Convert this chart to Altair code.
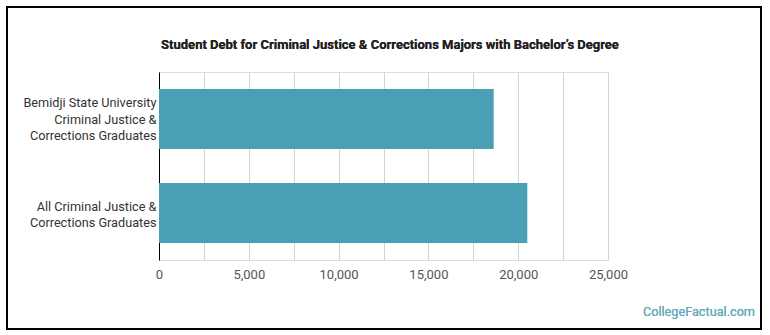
import altair as alt
import pandas as pd

categories = [
    "Bemidji State University\nCriminal Justice &\nCorrections Graduates",
    "All Criminal Justice &\nCorrections Graduates",
]
debt = [18636, 20507]
grid_values = [0, 2500, 5000, 7500, 10000, 12500, 15000, 17500, 20000, 22500, 25000]
title_text = "Student Debt for Criminal Justice & Corrections Majors with Bachelor\u2019s Degree"

df = pd.DataFrame({"group": categories, "debt": debt})

W, H = 449, 188
LEFT, TOP = 159, 72
LINE_H = 16.7

bars = alt.Chart(df).mark_bar(color="#4a9fb5").encode(
    x=alt.X(
        "debt:Q",
        scale=alt.Scale(domain=[0, 25000], nice=False),
        axis=alt.Axis(
            values=grid_values,
            labelExpr="datum.value % 5000 == 0 ? format(datum.value, ',') : ''",
            title=None,
            domain=False,
            ticks=False,
            grid=True,
            gridColor="#d4d4d4",
            gridWidth=1,
            labelFlush=False,
            labelOverlap=False,
            labelFont="Roboto",
            labelFontSize=13,
            labelColor="#555555",
            labelPadding=8,
        ),
    ),
    y=alt.Y(
        "group:N",
        sort=categories,
        scale=alt.Scale(paddingInner=0.362, paddingOuter=0.181),
        axis=alt.Axis(
            title=None,
            domain=True,
            domainColor="#000000",
            domainWidth=1,
            ticks=False,
            grid=False,
            labelExpr="split(datum.label, '\\n')",
            labelOffset={
                "condition": {
                    "test": "indexof(datum.value, 'Bemidji') >= 0",
                    "value": -LINE_H + 0.7,
                },
                "value": -6.5,
            },
            labelFont="Roboto",
            labelFontSize=12.7,
            labelColor="#333333",
            labelLineHeight=LINE_H,
            labelPadding=3,
            labelLimit=300,
        ),
    ),
)

border = alt.Chart(df).mark_rect(
    filled=False, stroke="#000000", strokeWidth=2, clip=False
).encode(
    x=alt.value(7 - LEFT),
    x2=alt.value(761 - LEFT),
    y=alt.value(7 - TOP),
    y2=alt.value(329 - TOP),
)

title = alt.Chart(df).mark_text(
    text=title_text,
    align="center",
    baseline="middle",
    font="Roboto",
    fontSize=13,
    fontWeight="bold",
    color="#222222",
    clip=False,
).encode(
    x=alt.value(390 - LEFT),
    y=alt.value(45 - TOP),
)

watermark = alt.Chart(df).mark_text(
    text="CollegeFactual.com",
    align="right",
    baseline="middle",
    font="Roboto",
    fontSize=12.7,
    color="#62abbb",
    clip=False,
).encode(
    x=alt.value(755 - LEFT),
    y=alt.value(312 - TOP),
)

chart = alt.layer(bars, border, title, watermark).properties(
    width=W,
    height=H,
    padding={"left": LEFT, "top": TOP, "right": 770 - LEFT - W, "bottom": 335 - TOP - H},
    autosize=alt.AutoSizeParams(type="none"),
).configure_view(stroke=None).configure(background="#ffffff")

chart.save("out.html", embed_options={"renderer": "svg", "actions": False})
